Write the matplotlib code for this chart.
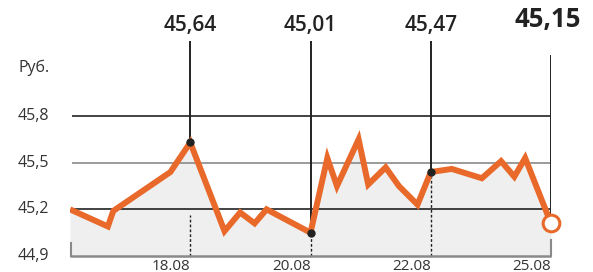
import matplotlib
matplotlib.use("Agg")
import matplotlib.pyplot as plt
from matplotlib import transforms

# ---- data ----
x_pos = [0, 0.63, 0.72, 1.67, 2.0, 2.57, 2.83, 3.07, 3.27, 4.0, 4.28, 4.44,
         4.80, 4.96, 5.25, 5.47, 5.78, 6.0, 6.35, 6.85, 7.17, 7.39, 7.57, 8.0]
values = [45.20, 45.09, 45.19, 45.44, 45.63, 45.06, 45.18, 45.11, 45.20, 45.05,
          45.53, 45.35, 45.65, 45.36, 45.47, 45.35, 45.23, 45.44, 45.46, 45.40,
          45.51, 45.41, 45.53, 45.11]
date_ticks = [2, 4, 6, 8]
date_labels = ["18.08", "20.08", "22.08", "25.08"]
y_ticks = [44.9, 45.2, 45.5, 45.8]
y_labels = ["44,9", "45,2", "45,5", "45,8"]
callout_idx = [4, 9, 17]
callout_labels = ["45,64", "45,01", "45,47"]
last_label = "45,15"
unit_label = "Руб."

ORANGE = "#E8692A"
DARK = "#222222"
GRID_GREY = "#8a8a8a"
FILL = "#EFEFEF"
FONT = "Open Sans"

W, H = 593, 272
fig = plt.figure(figsize=(W / 100, H / 100), dpi=100)
ax = fig.add_axes([70 / W, (H - 256) / H, 481 / W, 215 / H])
ymin = 44.9
ymax = 44.9 + 215 / 155.5
ax.set_xlim(0, 8)
ax.set_ylim(ymin, ymax)
for s in ax.spines.values():
    s.set_visible(False)
ax.set_yticks([])
ax.set_xticks([])

# fill
ax.fill_between(x_pos, values, ymin, color=FILL, lw=0, zorder=1)

# gridlines
grid_colors = {45.2: DARK, 45.5: GRID_GREY, 45.8: DARK}
for yt in y_ticks[1:]:
    ax.plot([0.04, 8], [yt, yt], color=grid_colors[yt], lw=1.2, zorder=2,
            solid_capstyle="butt")

# bottom axis and end ticks
ax.plot([0, 8], [ymin, ymin], color=GRID_GREY, lw=1.8, zorder=3,
        clip_on=False, solid_capstyle="butt")
ax.plot([0.01, 0.01], [ymin, ymin + 13 / 155.5], color=GRID_GREY, lw=1.5,
        zorder=3, clip_on=False)
ax.plot([8, 8], [ymin, ymin + 16 / 155.5], color=GRID_GREY, lw=1.5,
        zorder=3, clip_on=False)

# dotted date ticks
xy = dict(zip(x_pos, values))
for xt in date_ticks[:3]:
    top = xy[xt] if xt != 2 else 45.165
    ax.plot([xt, xt], [ymin, top], color=DARK, lw=1.0, ls=(0, (2, 1.5)),
            zorder=2)

# callout lines
for i in callout_idx:
    ax.plot([x_pos[i], x_pos[i]], [values[i], ymax], color=DARK, lw=1.4,
            zorder=4, clip_on=False, solid_capstyle="butt")
ax.plot([x_pos[-1], x_pos[-1]], [values[-1], 44.9 + 201 / 155.5], color=DARK,
        lw=1.4, zorder=4, solid_capstyle="butt")

# main line
ax.plot(x_pos, values, color=ORANGE, lw=4.3, zorder=5,
        solid_joinstyle="miter", solid_capstyle="butt")
ax.plot([x_pos[i] for i in callout_idx], [values[i] for i in callout_idx],
        "o", color=DARK, ms=5, zorder=6)
ax.plot([x_pos[-1]], [values[-1]], "o", mfc="white", mec=ORANGE, mew=2.2,
        ms=12, zorder=7, clip_on=False)

# callout texts
tr_top = transforms.blended_transform_factory(ax.transData, fig.transFigure)
for i, lab in zip(callout_idx, callout_labels):
    ax.text(x_pos[i], (H - 25) / H, lab, transform=tr_top, ha="center",
            va="center", fontsize=15, fontweight="semibold", color=DARK,
            family=FONT)
ax.text(x_pos[-1] - 0.05, (H - 19) / H, last_label, transform=tr_top, ha="center",
        va="center", fontsize=18.5, fontweight="bold", color=DARK, family=FONT)

# y labels
tr_y = transforms.blended_transform_factory(fig.transFigure, ax.transData)
for yt, lab in zip(y_ticks, y_labels):
    ax.text(18 / W, yt, lab, transform=tr_y, ha="left", va="center",
            fontsize=11.5, color="#333333", family=FONT)
fig.text(18 / W, (H - 68) / H, unit_label, ha="left", va="center",
         fontsize=11.5, color="#333333", family=FONT)

# x labels (right-aligned to tick)
tr_x = transforms.blended_transform_factory(ax.transData, fig.transFigure)
for xt, lab in zip(date_ticks, date_labels):
    ax.text(xt, (H - 266) / H, lab, transform=tr_x, ha="right", va="center",
            fontsize=11, color="#333333", family=FONT)

fig.savefig("out.png", dpi=100)
